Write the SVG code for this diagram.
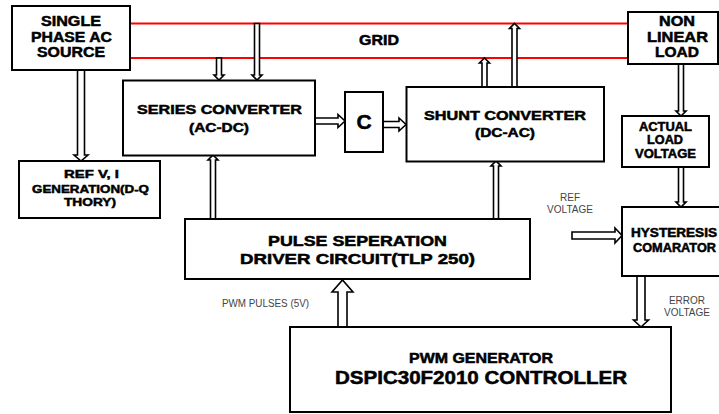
<svg xmlns="http://www.w3.org/2000/svg" width="719" height="414" viewBox="0 0 719 414">
<style>
  .box{fill:#fff;stroke:#000;stroke-width:2}
  .t{font-family:"Liberation Sans",Arial,sans-serif;font-weight:bold;fill:#000;stroke:#000;stroke-width:0.5;text-anchor:middle}
  .s{font-family:"Liberation Sans",Arial,sans-serif;font-size:10px;fill:#444;text-anchor:middle}
  .arr{fill:#fff;stroke:#000;stroke-width:1.6;stroke-linejoin:miter}
  .grid{stroke:#f00;stroke-width:2;fill:none}
</style>
<rect width="719" height="414" fill="#fff"/>
<g id="grid-lines">
  <line class="grid" x1="130" y1="23.5" x2="628" y2="23.5"/>
  <line class="grid" x1="130" y1="58" x2="628" y2="58"/>
  <text class="t" x="379" y="45" font-size="14" textLength="40" lengthAdjust="spacingAndGlyphs">GRID</text>
</g>
<g id="connectors">
  <!-- source down to ref gen -->
  <polygon class="arr" points="77.5,70 84.5,70 84.5,155 88,155 81,161 74,155 77.5,155"/>
  <!-- grid down to series converter -->
  <polygon class="arr" points="216.5,58 221.5,58 221.5,75 224,75 219,80 214,75 216.5,75"/>
  <polygon class="arr" points="254.5,23.5 259.5,23.5 259.5,75 262,75 257,80 252,75 254.5,75"/>
  <!-- series to C -->
  <polygon class="arr" points="315,118 338,118 338,114.5 345,121 338,127.5 338,124 315,124"/>
  <!-- C to shunt -->
  <polygon class="arr" points="383,121.5 399,121.5 399,118 406,124.5 399,131 399,127.5 383,127.5"/>
  <!-- shunt up to grid -->
  <polygon class="arr" points="482,87 487,87 487,63 489.5,63 484.5,58 479.5,63 482,63"/>
  <polygon class="arr" points="512,87 517,87 517,28.5 519.5,28.5 514.5,23.5 509.5,28.5 512,28.5"/>
  <!-- pulse up to series / shunt -->
  <polygon class="arr" points="210.5,219 215.5,219 215.5,160 218,160 213,155 208,160 210.5,160"/>
  <polygon class="arr" points="493.5,219 498.5,219 498.5,166 501,166 496,161 491,166 493.5,166"/>
  <!-- nonlinear load down -->
  <polygon class="arr" points="678.5,64 683.5,64 683.5,111 686,111 681,116 676,111 678.5,111"/>
  <polygon class="arr" points="678.5,167 683.5,167 683.5,202 686,202 681,207 676,202 678.5,202"/>
  <!-- ref voltage into hysteresis -->
  <polygon class="arr" points="572,232 615,232 615,228 622,235.5 615,243 615,239 572,239"/>
  <!-- hysteresis down to pwm -->
  <polygon class="arr" points="637,276 645,276 645,320 648.5,320 641,327 633.5,320 637,320"/>
  <!-- pwm up to pulse -->
  <polygon class="arr" points="338,327 347,327 347,292 353,292 342.5,280 332,292 338,292"/>
  <text class="s" x="570" y="201">REF</text>
  <text class="s" x="570" y="213">VOLTAGE</text>
  <text class="s" x="687" y="304">ERROR</text>
  <text class="s" x="687" y="316">VOLTAGE</text>
  <text class="s" x="265.5" y="307" textLength="87" lengthAdjust="spacingAndGlyphs">PWM PULSES (5V)</text>
</g>
<g id="source">
  <rect class="box" x="12" y="6" width="118" height="64"/>
  <text class="t" x="71" y="25.5" font-size="14" textLength="60" lengthAdjust="spacingAndGlyphs">SINGLE</text>
  <text class="t" x="71.5" y="41.5" font-size="14" textLength="81" lengthAdjust="spacingAndGlyphs">PHASE AC</text>
  <text class="t" x="71" y="57" font-size="14" textLength="68" lengthAdjust="spacingAndGlyphs">SOURCE</text>
</g>
<g id="refgen">
  <rect class="box" x="19" y="161" width="141" height="57"/>
  <text class="t" x="91.5" y="178" font-size="11.5" textLength="55" lengthAdjust="spacingAndGlyphs">REF V, I</text>
  <text class="t" x="90.5" y="192.5" font-size="11.5" textLength="117" lengthAdjust="spacingAndGlyphs">GENERATION(D-Q</text>
  <text class="t" x="90" y="206" font-size="11.5" textLength="52" lengthAdjust="spacingAndGlyphs">THORY)</text>
</g>
<g id="series">
  <rect class="box" x="123" y="80.5" width="192" height="75"/>
  <text class="t" x="219.5" y="114" font-size="13" textLength="165" lengthAdjust="spacingAndGlyphs">SERIES CONVERTER</text>
  <text class="t" x="219" y="132" font-size="13" textLength="60" lengthAdjust="spacingAndGlyphs">(AC-DC)</text>
</g>
<g id="capacitor">
  <rect class="box" x="345" y="92" width="38" height="60"/>
  <text class="t" x="364" y="129" font-size="21">C</text>
</g>
<g id="shunt">
  <rect class="box" x="406.5" y="87" width="197.5" height="74.5"/>
  <text class="t" x="505" y="120" font-size="13" textLength="162" lengthAdjust="spacingAndGlyphs">SHUNT CONVERTER</text>
  <text class="t" x="505" y="137" font-size="13" textLength="60" lengthAdjust="spacingAndGlyphs">(DC-AC)</text>
</g>
<g id="nonlinear">
  <rect class="box" x="628" y="12" width="90" height="52"/>
  <text class="t" x="677" y="26" font-size="14" textLength="36" lengthAdjust="spacingAndGlyphs">NON</text>
  <text class="t" x="677.5" y="42" font-size="14" textLength="61" lengthAdjust="spacingAndGlyphs">LINEAR</text>
  <text class="t" x="677" y="57" font-size="14" textLength="44" lengthAdjust="spacingAndGlyphs">LOAD</text>
</g>
<g id="actualload">
  <rect class="box" x="622" y="116" width="87" height="51"/>
  <text class="t" x="665.5" y="131" font-size="12" textLength="53" lengthAdjust="spacingAndGlyphs">ACTUAL</text>
  <text class="t" x="665" y="144" font-size="12" textLength="36" lengthAdjust="spacingAndGlyphs">LOAD</text>
  <text class="t" x="665.5" y="157.5" font-size="12" textLength="61" lengthAdjust="spacingAndGlyphs">VOLTAGE</text>
</g>
<g id="hysteresis">
  <rect class="box" x="622" y="207" width="110" height="69"/>
  <text class="t" x="674" y="237" font-size="12" textLength="86" lengthAdjust="spacingAndGlyphs">HYSTERESIS</text>
  <text class="t" x="674.5" y="252" font-size="12" textLength="83" lengthAdjust="spacingAndGlyphs">COMARATOR</text>
</g>
<g id="pulse">
  <rect class="box" x="185" y="219" width="345" height="60"/>
  <text class="t" x="357.5" y="245.5" font-size="15" textLength="179" lengthAdjust="spacingAndGlyphs">PULSE SEPERATION</text>
  <text class="t" x="357.5" y="264" font-size="15" textLength="235" lengthAdjust="spacingAndGlyphs">DRIVER CIRCUIT(TLP 250)</text>
</g>
<g id="pwm">
  <rect class="box" x="290" y="327" width="381" height="85"/>
  <text class="t" x="481" y="363" font-size="14" textLength="144" lengthAdjust="spacingAndGlyphs">PWM GENERATOR</text>
  <text class="t" x="481" y="383.5" font-size="17.5" textLength="292" lengthAdjust="spacingAndGlyphs">DSPIC30F2010 CONTROLLER</text>
</g>
</svg>
